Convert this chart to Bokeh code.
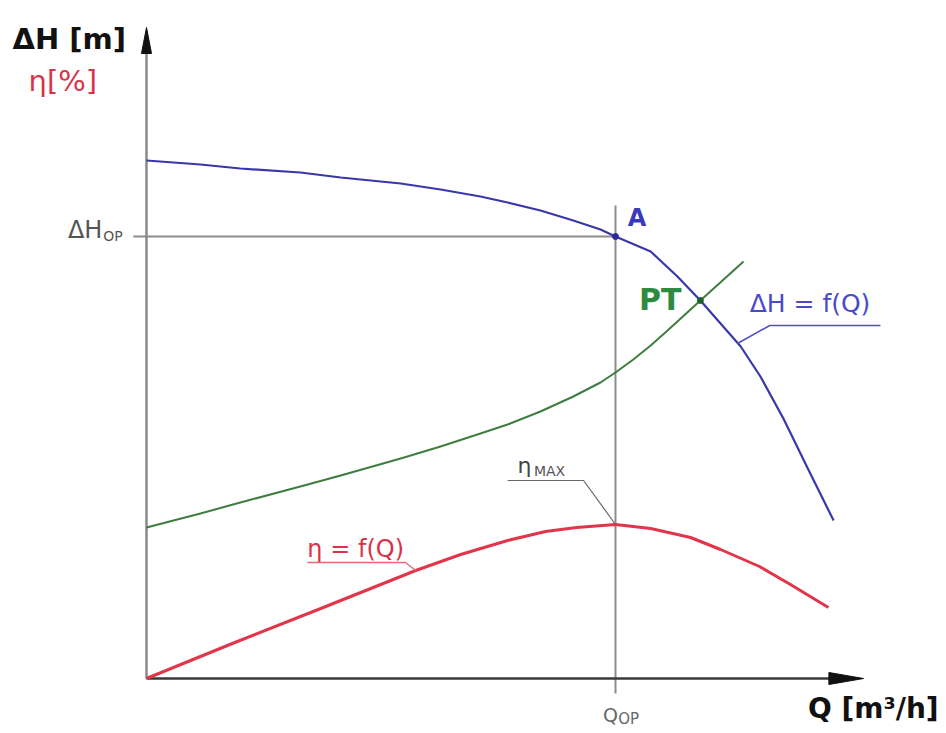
from bokeh.plotting import figure
from bokeh.models import Range1d
from bokeh.core.properties import value
from bokeh.embed import file_html
from bokeh.resources import INLINE

# ---- data ----
q_head = [0, 11.5, 20.0, 32.8, 41.4, 54.2, 62.7, 71.2, 77.0, 84.0, 91.0, 96.8, 100,
          107.5, 113.2, 118.1, 122.4, 126.7, 130.9, 135.8, 140.9, 146.5]
head = [51.8, 51.4, 51.0, 50.6, 50.1, 49.5, 48.9, 48.2, 47.6, 46.8, 45.8, 44.9, 44.2,
        42.7, 40.2, 37.8, 35.5, 33.2, 30.2, 26.0, 21.1, 15.8]

q_sys = [0, 11.5, 20.0, 32.8, 41.4, 54.2, 62.7, 71.2, 77.0, 84.0, 91.0, 96.8, 100,
         103.8, 107.5, 111.1, 118.1, 127.3]
sys_head = [15.1, 16.5, 17.6, 19.2, 20.3, 22.0, 23.2, 24.5, 25.4, 26.7, 28.2, 29.6, 30.6,
            31.9, 33.3, 34.8, 37.8, 41.7]

q_eff = [0, 18.3, 37.7, 57.4, 67.0, 77.0, 85.1, 91.7, 100, 107.5, 116.0, 122.4,
         130.7, 137.3, 145.4]
eff = [0, 3.5, 7.1, 10.8, 12.4, 13.8, 14.7, 15.1, 15.4, 15.0, 14.1, 12.9,
       11.2, 9.4, 7.1]

q_op, h_op = 100, 44.2          # operating point A
q_pt, h_pt = 118.1, 37.8        # intersection PT
q_emax, e_max = 100, 15.4       # max efficiency

y_axis_top = 65.1
x_axis_end = 152.9

# ---- figure ----
W, H = 940, 728
PX_X, PX_Y = 4.69, 10.0           # pixels per unit
X0 = -146 / PX_X
YTOP = 67.8
p = figure(width=W, height=H, output_backend="svg", toolbar_location=None,
           x_range=Range1d(X0, X0 + W / PX_X), y_range=Range1d(YTOP - H / PX_Y, YTOP),
           x_axis_type=None, y_axis_type=None, min_border=0)
p.grid.visible = False
p.outline_line_color = None
p.background_fill_color = "white"

FONT = value("DejaVu Sans")
GRAY = "#8c8c8c"

# reference lines through operating point
p.line([-2.8, q_op], [h_op, h_op], line_color=GRAY, line_width=2)
p.line([q_op, q_op], [47.3, -1.5], line_color=GRAY, line_width=2)

# axes
p.line([0, 0], [0, y_axis_top - 2.0], line_color="#8a8a8a", line_width=2.5)
p.line([0, x_axis_end - 5], [0, 0], line_color="#3a3a3a", line_width=2.5)
ay_len, ay_hw = 2.6, 1.07
p.patch([-ay_hw, 0, ay_hw], [y_axis_top - ay_len, y_axis_top, y_axis_top - ay_len],
        fill_color="#111111", line_color="#111111")
ax_len, ax_hw = 7.4, 0.6
p.patch([x_axis_end - ax_len, x_axis_end, x_axis_end - ax_len], [ax_hw, 0, -ax_hw],
        fill_color="#111111", line_color="#111111")

# curves
p.line(q_sys, sys_head, line_color="#3f7d3f", line_width=2, line_join="round")
p.line(q_head, head, line_color="#3838aa", line_width=2.2, line_join="round")
p.line(q_eff, eff, line_color="#e0354a", line_width=3, line_join="round")

# points
p.scatter([q_op], [h_op], size=6, fill_color="#2a2a9a", line_color="#2a2a9a")
p.scatter([q_pt], [h_pt], size=6, fill_color="#1f5f2a", line_color="#1f5f2a")

# leaders / underlines
p.line([126.0, 132.9, 156.5], [33.5, 35.3, 35.3], line_color="#5050c0", line_width=1.5)
p.line([77.0, 93.2, q_emax], [19.8, 19.8, e_max], line_color="#666666", line_width=1.2)
p.line([34.3, 55.2, 57.4], [11.6, 11.6, 10.8], line_color="#e86a78", line_width=1.5)

def txt(x, y, s, size, color, bold=False, align="left", baseline="middle"):
    p.text([x], [y], text=[s], text_font=FONT, text_font_size=f"{size}px",
           text_color=color, text_font_style="bold" if bold else "normal",
           text_align=align, text_baseline=baseline)

txt(-28.57, 64.0, "ΔH [m]", 29, "#111111", bold=True)
txt(-25.16, 59.8, "η[%]", 29, "#d8334a")
txt(-9.4, 44.9, "ΔH", 24, "#555555", align="right")
txt(-9.2, 44.3, "OP", 14, "#555555")
txt(102.6, 46.1, "A", 24, "#3a3ab8", bold=True)
txt(105.0, 37.9, "PT", 30, "#2e8a3e", bold=True)
txt(128.6, 37.5, "ΔH = f(Q)", 25, "#4a4ac8")
txt(79.1, 21.3, "η", 22, "#444444")
txt(82.6, 20.8, "MAX", 14, "#555555")
txt(34.3, 13.0, "η = f(Q)", 24, "#d8334a")
txt(100.5, -3.6, "Q", 19, "#666666", align="right")
txt(100.6, -4.0, "OP", 15, "#666666")
txt(168.9, -3.0, "Q [m³/h]", 28, "#111111", bold=True, align="right")

open("out.html", "w").write(file_html(p, INLINE))
